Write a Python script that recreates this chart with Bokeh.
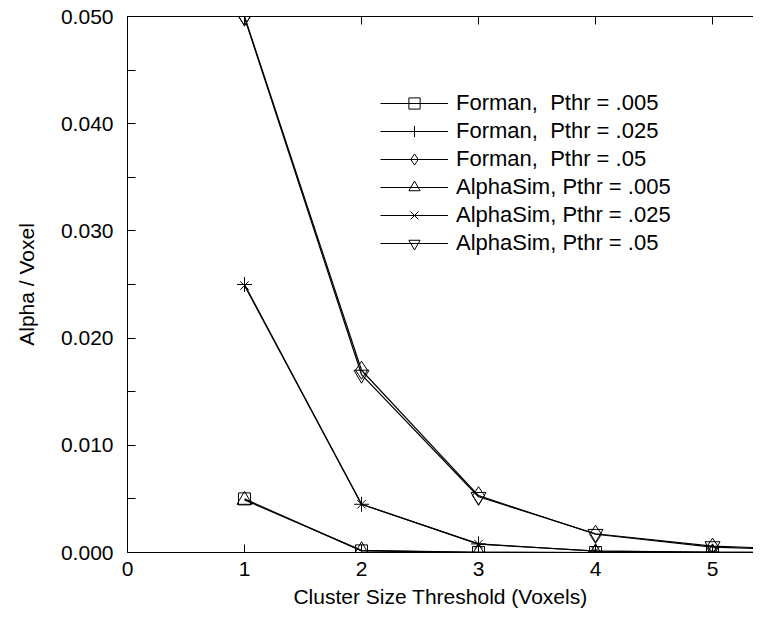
from bokeh.plotting import figure
from bokeh.models import (Range1d, LinearAxis, FixedTicker, NumeralTickFormatter,
                          Legend, LegendItem)
from bokeh.embed import file_html
from bokeh.resources import INLINE

# ---- data ----
cluster_size = [1, 2, 3, 4, 5, 6]
forman_005 = [0.0050, 0.00015, 0.000004, 0.0, 0.0, 0.0]
forman_025 = [0.0250, 0.0045, 0.00080, 0.00013, 0.00002, 0.000003]
forman_05 = [0.0500, 0.0170, 0.0053, 0.00170, 0.00050, 0.00015]
alphasim_005 = [0.0049, 0.00020, 0.00001, 0.0, 0.0, 0.0]
alphasim_025 = [0.0249, 0.0045, 0.00078, 0.00014, 0.00003, 0.00001]
alphasim_05 = [0.0499, 0.0166, 0.0052, 0.00175, 0.00060, 0.00022]

series_names = ["Forman,  Pthr = .005", "Forman,  Pthr = .025", "Forman,  Pthr = .05",
                "AlphaSim, Pthr = .005", "AlphaSim, Pthr = .025", "AlphaSim, Pthr = .05"]
series_values = [forman_005, forman_025, forman_05, alphasim_005, alphasim_025, alphasim_05]
series_markers = ["square", "cross", "diamond", "triangle", "x", "inverted_triangle"]
series_sizes = [12, 15, 18, 15, 12, 15]

x_ticks = [0, 1, 2, 3, 4, 5]
y_ticks = [0.0, 0.01, 0.02, 0.03, 0.04, 0.05]
y_minor = [0.005, 0.015, 0.025, 0.035, 0.045]

FONT = "Liberation Sans"
FS = "21px"
LFS = "22px"

p = figure(frame_width=626, frame_height=536, output_backend="svg", toolbar_location=None,
           x_range=Range1d(0, 5.35), y_range=Range1d(0, 0.05),
           min_border_left=127, min_border_top=16, min_border_right=0, min_border_bottom=0,
           x_axis_label="Cluster Size Threshold (Voxels)", y_axis_label="Alpha / Voxel")
p.outline_line_color = None
p.grid.visible = False
p.background_fill_color = "white"
p.border_fill_color = "white"

xa = p.xaxis[0]
xa.ticker = FixedTicker(ticks=x_ticks, minor_ticks=[])
ya = p.yaxis[0]
ya.ticker = FixedTicker(ticks=y_ticks, minor_ticks=y_minor)
ya.formatter = NumeralTickFormatter(format="0.000")

for ax in (xa, ya):
    ax.major_tick_in = 8
    ax.major_tick_out = 0
    ax.minor_tick_in = 8
    ax.minor_tick_out = 0
    ax.axis_line_color = "black"
    ax.major_tick_line_color = "black"
    ax.minor_tick_line_color = "black"
    ax.major_label_text_font = FONT
    ax.major_label_text_font_size = FS
    ax.major_label_text_line_height = 1.0
    ax.major_label_text_color = "black"
    ax.axis_label_text_font = FONT
    ax.axis_label_text_font_size = FS
    ax.axis_label_text_font_style = "normal"
    ax.axis_label_text_color = "black"

xa.major_label_standoff = 9
xa.axis_label_standoff = 6
ya.major_label_standoff = 14
ya.axis_label_standoff = 20

top = LinearAxis(ticker=FixedTicker(ticks=x_ticks, minor_ticks=[]),
                 major_tick_in=8, major_tick_out=0, minor_tick_in=0, minor_tick_out=0,
                 major_label_text_font_size="1px", major_label_text_color=None,
                 major_label_standoff=0,
                 axis_line_color="black", major_tick_line_color="black")
p.add_layout(top, "above")

items = []
for name, vals, mk, sz in zip(series_names, series_values, series_markers, series_sizes):
    ln = p.line(cluster_size, vals, line_color="black", line_width=1.2)
    sc = p.scatter(cluster_size, vals, marker=mk, size=sz, fill_color=None,
                   line_color="black", line_width=1)
    items.append(LegendItem(label=name, renderers=[ln, sc]))

legend = Legend(items=items, location=(253, 295), orientation="vertical",
                glyph_width=68, glyph_height=28, label_height=28, spacing=0,
                label_standoff=8, padding=0, margin=0,
                border_line_color=None, background_fill_alpha=0,
                label_text_font=FONT, label_text_font_size=LFS,
                label_text_line_height=1.0, label_text_color="black")
p.add_layout(legend, "center")

open("out.html", "w").write(file_html(p, INLINE))
